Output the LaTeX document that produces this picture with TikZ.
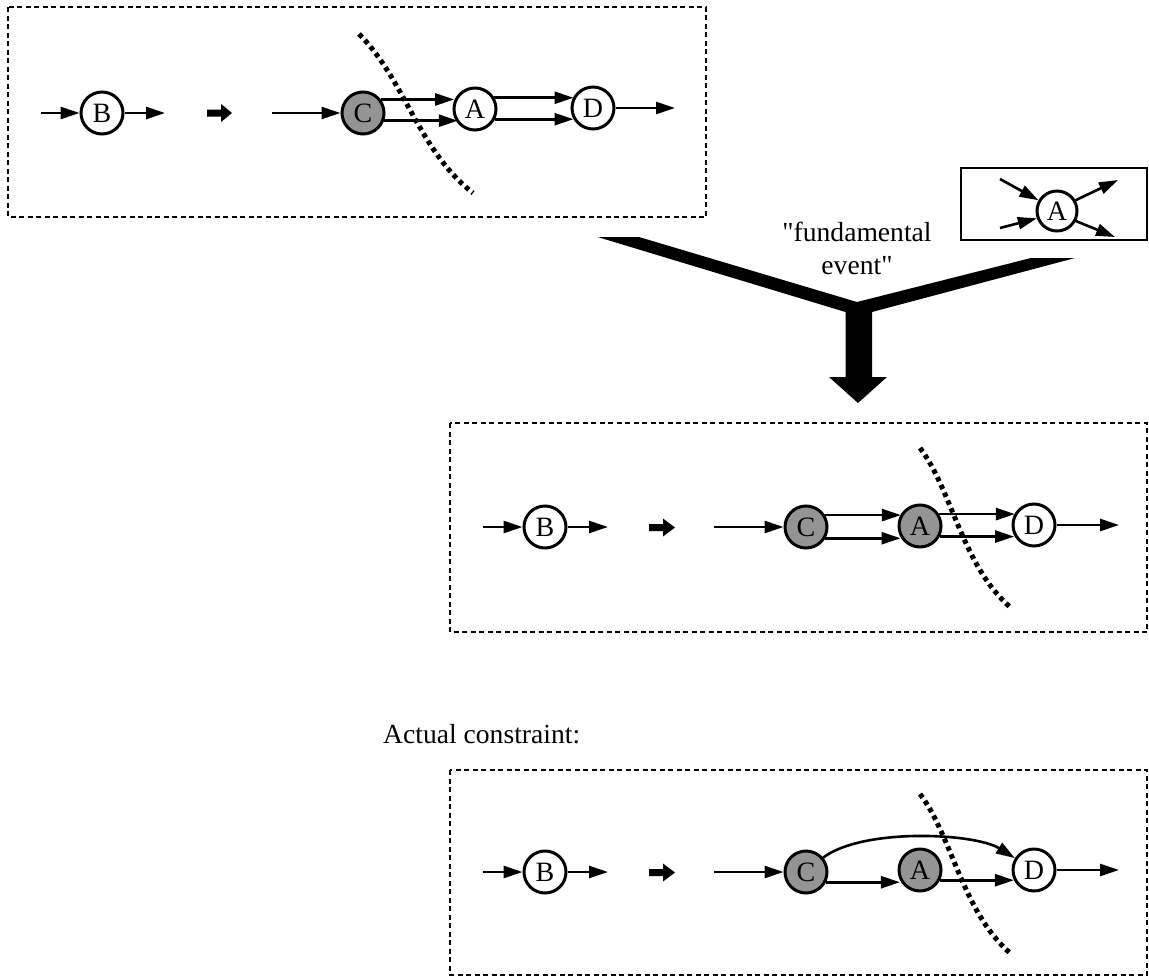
\documentclass[tikz,border=0pt]{standalone}
\usepackage{fontspec}
\setmainfont{Liberation Serif}
\newfontfamily\quotefont{Liberation Serif}[Ligatures=TeXOff]
\usetikzlibrary{arrows.meta}
\begin{document}
\begin{tikzpicture}[x=1pt,y=-1pt,
  evt/.style={circle,draw,line width=3pt,minimum size=42pt,inner sep=0pt,fill=white,font=\fontsize{28}{28}\selectfont},
  done/.style={evt,fill=black!42},
  arr/.style={line width=2.6pt,-{Triangle[length=19pt,width=12pt]}},
  frame/.style={line width=2.6pt,dash pattern=on 5pt off 3.5pt},
  cut/.style={line width=5pt,dash pattern=on 4.5pt off 4pt},
  blk/.style={fill=black},
  lbl/.style={font=\fontsize{27.6}{31}\selectfont,inner sep=0pt}]
\useasboundingbox (0,0) rectangle (1149,977);

% ---------- top box ----------
\draw[frame] (8,7) rectangle (706,217);
\node[evt] (tB) at (102,113) {B};
\node[done] (tC) at (363,113) {C};
\node[evt] (tA) at (475,109) {A};
\node[evt] (tD) at (593,108) {D};
\coordinate (tBin) at (41,113);
\coordinate (tBout) at (165,113);
\coordinate (tCin) at (272,113);
\coordinate (tDout) at (675,108);
\draw[arr] (tBin) -- (tB);
\draw[arr] (tB) -- (tBout);
\draw[arr] (tCin) -- (tC);
\draw[arr] (tC.37) -- (tA.158 |- tC.37);
\draw[arr] (tC.-20) -- (tA.-140 |- tC.-20);
\draw[arr] (tA.30) -- (tD.150 |- tA.30);
\draw[arr] (tA.-27) -- (tD.-150 |- tA.-27);
\draw[arr] (tD) -- (tDout);
\fill[blk] (207,109.5) -- (221,109.5) -- (221,104) -- (232,113) -- (221,122) -- (221,116.5) -- (207,116.5) -- cycle;
\draw[cut] (359,34) .. controls (405,80) and (418,150) .. (473,193);

% ---------- inset box ----------
\draw[line width=2.6pt] (961,168) rectangle (1147,240);
\node[evt,minimum size=40pt] (iA) at (1057,211) {A};
\coordinate (iin1) at (1000,179);
\coordinate (iin2) at (1000,228);
\coordinate (iout1) at (1118,180);
\coordinate (iout2) at (1115,237);
\draw[arr] (iin1) -- (iA.150);
\draw[arr] (iin2) -- (iA.200);
\draw[arr] (iA.30) -- (iout1);
\draw[arr] (iA.-28) -- (iout2);

% ---------- fundamental event arrow ----------
\node[lbl,align=center,font=\quotefont\fontsize{27.6}{31}\selectfont] (fe) at (857,248) {"fundamental\\[2pt]event"};
\fill[blk] (597.6,237) -- (639,237) -- (857,302) -- (1031,258) -- (1075,258)
  -- (872,312) -- (872,377) -- (887,377) -- (858,403) -- (829,377)
  -- (845.5,377) -- (845.5,312) -- cycle;

% ---------- middle box ----------
\draw[frame] (450,423) rectangle (1147,632);
\node[evt] (mB) at (545,527) {B};
\node[done] (mC) at (806,527) {C};
\node[done] (mA) at (920,526) {A};
\node[evt] (mD) at (1034,525) {D};
\coordinate (mBin) at (483,527);
\coordinate (mBout) at (608,527);
\coordinate (mCin) at (714,527);
\coordinate (mDout) at (1119,525);
\draw[arr] (mBin) -- (mB);
\draw[arr] (mB) -- (mBout);
\draw[arr] (mCin) -- (mC);
\draw[arr] (mC.32) -- (mA.148 |- mC.32);
\draw[arr] (mC.-30) -- (mA.-150 |- mC.-30);
\draw[arr] (mA.32) -- (mD.148 |- mA.32);
\draw[arr] (mA.-28) -- (mD.-152 |- mA.-28);
\draw[arr] (mD) -- (mDout);
\fill[blk] (649,524) -- (663,524) -- (663,518.5) -- (675,527.5) -- (663,536.5) -- (663,531) -- (649,531) -- cycle;
\draw[cut] (920,448) .. controls (952,490) and (962,565) .. (1010,607);

% ---------- actual constraint ----------
\node[lbl,anchor=base west] (ac) at (383,743) {Actual constraint:};

\draw[frame] (450,770) rectangle (1147,975);
\node[evt] (bB) at (545,872) {B};
\node[done] (bC) at (806,872) {C};
\node[done] (bA) at (920,870) {A};
\node[evt] (bD) at (1034,870) {D};
\coordinate (bBin) at (483,872);
\coordinate (bBout) at (608,872);
\coordinate (bCin) at (714,872);
\coordinate (bDout) at (1119,870);
\draw[arr] (bBin) -- (bB);
\draw[arr] (bB) -- (bBout);
\draw[arr] (bCin) -- (bC);
\draw[arr] (bC.40) .. controls +(40,-30) and +(-40,-25) .. (bD.148);
\draw[arr] (bC.-27) -- (bA.-153 |- bC.-27);
\draw[arr] (bA.-27) -- (bD.-153 |- bA.-27);
\draw[arr] (bD) -- (bDout);
\fill[blk] (649,869) -- (663,869) -- (663,863.5) -- (675,872.5) -- (663,881.5) -- (663,876) -- (649,876) -- cycle;
\draw[cut] (920,794) .. controls (952,836) and (962,911) .. (1010,953);
\end{tikzpicture}
\end{document}
